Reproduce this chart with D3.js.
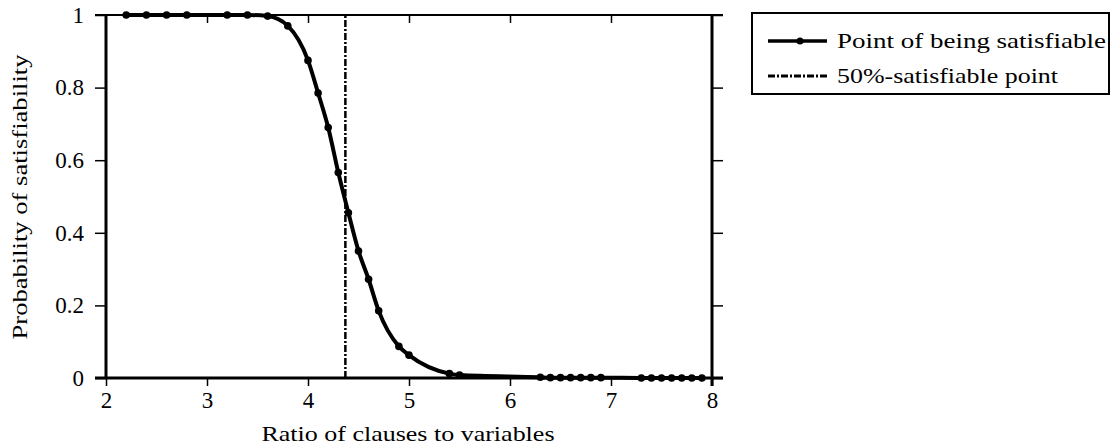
<!DOCTYPE html>
<html>
<head>
<meta charset="utf-8">
<script src="https://cdn.jsdelivr.net/npm/d3@7"></script>
<style>
  body { margin: 0; background: #fff; }
</style>
</head>
<body>
<div id="chart"></div>
<script>
// ratio of clauses to variables, and probability of being satisfiable
const ratios = [2.2, 2.4, 2.6, 2.8, 3.2, 3.4, 3.6, 3.8, 4.0, 4.1, 4.2, 4.3, 4.4, 4.5, 4.6, 4.7, 4.9, 5.0, 5.4, 5.5,
                6.3, 6.4, 6.5, 6.6, 6.7, 6.8, 6.9, 7.3, 7.4, 7.5, 7.6, 7.7, 7.8, 7.9];
const probs = [1, 1, 1, 1, 1, 1, 0.997, 0.97, 0.875, 0.785, 0.69, 0.566, 0.455, 0.35, 0.272, 0.185, 0.087, 0.063, 0.012, 0.008,
               0.002, 0.001, 0.001, 0.001, 0.001, 0.001, 0.001, 0, 0, 0, 0, 0, 0, 0];
const halfPoint = 4.37;
const xTicks = [2, 3, 4, 5, 6, 7, 8];
const yTicks = [0, 0.2, 0.4, 0.6, 0.8, 1];
const legendLabels = ["Point of being satisfiable", "50%-satisfiable point"];

const width = 1113, height = 448;
const plot = {left: 106, right: 712, top: 15, bottom: 378};
const serif = "'Liberation Serif'";

const svg = d3.select("#chart").append("svg")
  .attr("width", width)
  .attr("height", height);

const x = d3.scaleLinear().domain([2, 8]).range([plot.left, plot.right]);
const y = d3.scaleLinear().domain([0, 1]).range([plot.bottom, plot.top]);

const data = ratios.map((r, i) => ({r: r, p: probs[i]}));

// axes: left/bottom/right ticks point out, top ticks point in
const fmt = d => d3.format("")(d);
const gBottom = svg.append("g")
  .attr("transform", `translate(0,${plot.bottom})`)
  .call(d3.axisBottom(x).tickValues(xTicks).tickFormat(fmt).tickSize(8).tickPadding(6));
const gLeft = svg.append("g")
  .attr("transform", `translate(${plot.left},0)`)
  .call(d3.axisLeft(y).tickValues(yTicks).tickFormat(fmt).tickSize(11).tickPadding(11));
const gTop = svg.append("g")
  .attr("transform", `translate(0,${plot.top})`)
  .call(d3.axisBottom(x).tickValues(xTicks).tickFormat("").tickSize(8));
const gRight = svg.append("g")
  .attr("transform", `translate(${plot.right},0)`)
  .call(d3.axisRight(y).tickValues(yTicks).tickFormat("").tickSize(11));

[gBottom, gLeft, gTop, gRight].forEach(g => {
  g.attr("font-family", null).attr("font-size", null);
  g.select(".domain").remove();
  g.selectAll(".tick line").attr("stroke", "#000").attr("stroke-width", 1.5);
  g.selectAll("text").style("font-family", serif).style("font-size", "23px").attr("fill", "#000");
});
gTop.selectAll(".tick line").filter(d => d === 2 || d === 8).remove();

// frame
svg.append("line").attr("x1", plot.left).attr("x2", plot.left).attr("y1", plot.top).attr("y2", plot.bottom)
  .attr("stroke", "#000").attr("stroke-width", 3);
svg.append("line").attr("x1", plot.right).attr("x2", plot.right).attr("y1", plot.top).attr("y2", plot.bottom + 8)
  .attr("stroke", "#000").attr("stroke-width", 3);
svg.append("line").attr("x1", plot.left - 11).attr("x2", plot.right + 11).attr("y1", plot.bottom).attr("y2", plot.bottom)
  .attr("stroke", "#000").attr("stroke-width", 3);
svg.append("line").attr("x1", plot.left - 11).attr("x2", plot.right + 11).attr("y1", plot.top).attr("y2", plot.top)
  .attr("stroke", "#000").attr("stroke-width", 2);

// 50% line
svg.append("line")
  .attr("x1", x(halfPoint)).attr("x2", x(halfPoint))
  .attr("y1", y(0)).attr("y2", y(1))
  .attr("stroke", "#000").attr("stroke-width", 2.5)
  .attr("stroke-dasharray", "7,2,2,2");

// curve
const line = d3.line().x(d => x(d.r)).y(d => y(d.p)).curve(d3.curveMonotoneX);
svg.append("path").datum(data)
  .attr("d", line)
  .attr("fill", "none").attr("stroke", "#000").attr("stroke-width", 4);

svg.selectAll(".pt").data(data).enter().append("circle")
  .attr("class", "pt")
  .attr("cx", d => x(d.r)).attr("cy", d => y(d.p))
  .attr("r", 3.8).attr("fill", "#000");

// axis titles
svg.append("text")
  .attr("x", 408).attr("y", 441)
  .attr("text-anchor", "middle")
  .style("font-family", serif).style("font-size", "22px")
  .attr("textLength", 293).attr("lengthAdjust", "spacingAndGlyphs")
  .text("Ratio of clauses to variables");
svg.append("text")
  .attr("transform", `translate(27,197) rotate(-90)`)
  .attr("text-anchor", "middle")
  .style("font-family", serif).style("font-size", "21px")
  .attr("textLength", 285).attr("lengthAdjust", "spacingAndGlyphs")
  .text("Probability of satisfiability");

// legend
const lg = svg.append("g");
lg.append("rect").attr("x", 752).attr("y", 13).attr("width", 357).attr("height", 81)
  .attr("fill", "#fff").attr("stroke", "#000").attr("stroke-width", 2);
const rows = [41, 76];
const legendWidths = [269, 221];
lg.append("line").attr("x1", 768).attr("x2", 827).attr("y1", rows[0]).attr("y2", rows[0])
  .attr("stroke", "#000").attr("stroke-width", 3.5);
lg.append("circle").attr("cx", 800).attr("cy", rows[0]).attr("r", 3.5).attr("fill", "#000");
lg.append("line").attr("x1", 768).attr("x2", 827).attr("y1", rows[1]).attr("y2", rows[1])
  .attr("stroke", "#000").attr("stroke-width", 3).attr("stroke-dasharray", "7,2,2,2");
legendLabels.forEach((t, i) => {
  lg.append("text").attr("x", 837).attr("y", rows[i]).attr("dy", "0.33em")
    .style("font-family", serif).style("font-size", "22px")
    .attr("textLength", legendWidths[i]).attr("lengthAdjust", "spacingAndGlyphs")
    .text(t);
});
</script>
</body>
</html>
